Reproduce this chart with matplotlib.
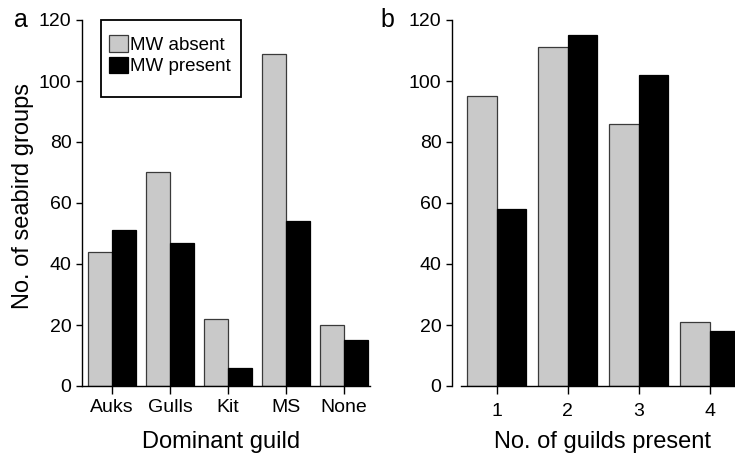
import matplotlib
matplotlib.use("Agg")
import matplotlib.pyplot as plt
import matplotlib.patches as patches
import numpy as np

plt.rcParams['font.family'] = ['Liberation Sans', 'DejaVu Sans']

# panel a: dominant guild
guilds = ['Auks', 'Gulls', 'Kit', 'MS', 'None']
guild_absent = [44, 70, 22, 109, 20]
guild_present = [51, 47, 6, 54, 15]

# panel b: number of guilds present
n_guilds = ['1', '2', '3', '4']
count_absent = [95, 111, 86, 21]
count_present = [58, 115, 102, 18]

y_ticks = [0, 20, 40, 60, 80, 100, 120]

GREY = '#c9c9c9'
EDGE = '#3a3a3a'
W, H = 735, 454
GROUP = 2.43  # group pitch in bar widths


def draw_panel(ax, labels, absent, present, xlim, line_start, xpad):
    centers = np.arange(len(labels)) * GROUP
    ax.bar(centers - 0.5, absent, width=1.0, color=GREY, edgecolor=EDGE,
           linewidth=0.9, label='MW absent')
    ax.bar(centers + 0.5, present, width=1.0, color='black', edgecolor='black',
           linewidth=0.9, label='MW present')
    ax.set_xlim(*xlim)
    ax.set_ylim(0, 120)
    ax.set_yticks(y_ticks)
    ax.set_xticks(centers)
    ax.set_xticklabels(labels)
    for s in ['top', 'right']:
        ax.spines[s].set_visible(False)
    ax.spines['left'].set_bounds(0, 120)
    ax.spines['bottom'].set_bounds(line_start, xlim[1])
    for s in ['left', 'bottom']:
        ax.spines[s].set_linewidth(1.0)
        ax.spines[s].set_zorder(3)
    ax.tick_params(axis='y', direction='out', length=4, width=1.0,
                   labelsize=14, pad=3.5)
    ax.tick_params(axis='x', direction='out', length=6, width=1.0,
                   labelsize=14, pad=xpad)
    ax.set_facecolor('none')


fig = plt.figure(figsize=(W / 100, H / 100), dpi=100)
bottom = (H - 386) / H
height = (386 - 20) / H

ax1 = fig.add_axes([82 / W, bottom, 288 / W, height])
draw_panel(ax1, guilds, guild_absent, guild_present,
           (-1.257, 10.81), -1.257, 3.5)
ax1.set_ylabel('No. of seabird groups', fontsize=17)
ax1.yaxis.set_label_coords(-0.168, 0.52)
ax1.set_xlabel('Dominant guild', fontsize=17)
ax1.xaxis.label.set_va('baseline')
ax1.xaxis.set_label_coords((221 - 82) / 288, -(448 - 386) / 366)

ax2 = fig.add_axes([452 / W, bottom, (745 - 452) / W, height])
draw_panel(ax2, n_guilds, count_absent, count_present,
           (-1.53, 8.5), -1.23, 6.5)
ax2.set_xlabel('No. of guilds present', fontsize=17)
ax2.xaxis.label.set_va('baseline')
ax2.xaxis.set_label_coords((603 - 452) / 293, -(448 - 386) / 366)

# legend in panel a, with a square frame drawn around it
ax1.legend(loc='upper left', bbox_to_anchor=(109 / W, 1 - 35 / H),
           bbox_transform=fig.transFigure, frameon=False,
           prop={'size': 13.5, 'weight': 'medium'},
           borderpad=0, borderaxespad=0, handlelength=1.0, handleheight=1.0,
           handletextpad=0.1, labelspacing=0.15)
fig.add_artist(patches.Rectangle((101 / W, 1 - 97 / H), (241 - 101) / W,
                                 (97 - 20) / H, transform=fig.transFigure,
                                 fill=False, edgecolor='black', linewidth=1.3))

fig.text(14 / W, 1 - 26.7 / H, 'a', fontsize=18, va='baseline')
fig.text(380 / W, 1 - 26.7 / H, 'b', fontsize=18, va='baseline')

fig.savefig('out.png', dpi=100)
